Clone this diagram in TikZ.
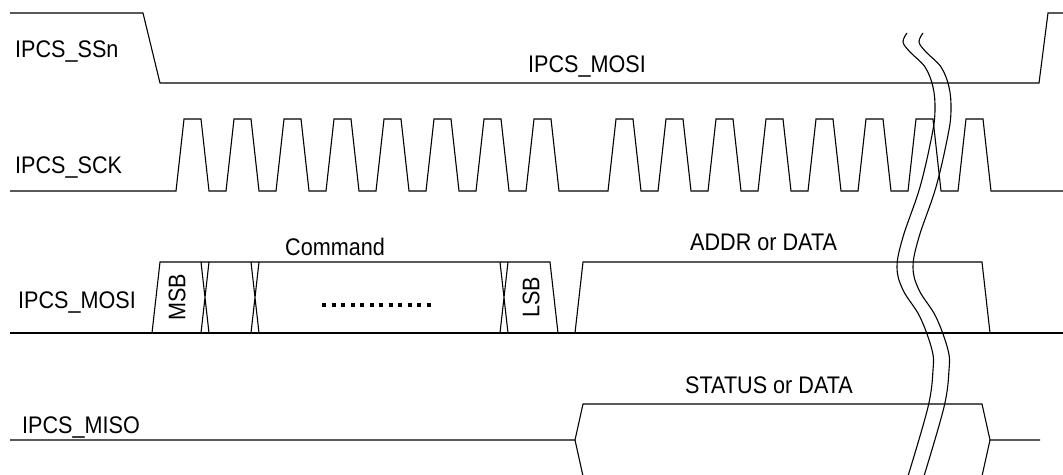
\documentclass[tikz,border=0pt]{standalone}
\usepackage{fontspec}
\setmainfont{Liberation Sans}[FakeStretch=0.9]
\usepackage{tikz}

\begin{document}
\begin{tikzpicture}[x=1pt,y=-1pt,
  wave/.style={line width=1.1pt},
  lbl/.style={font=\fontsize{24}{28}\selectfont, inner sep=0pt, anchor=base west}]
\useasboundingbox (0,0) rectangle (1063,474);

%% signal names
\node[lbl] (ssn) at (15,57) {IPCS\_SSn};
\node[lbl] (sck) at (15,173) {IPCS\_SCK};
\node[lbl] (mosi) at (18,308) {IPCS\_MOSI};
\node[lbl] (miso) at (22,433) {IPCS\_MISO};

%% field labels
\node[lbl] (ssnmosi) at (528,72) {IPCS\_MOSI};
\node[lbl] (cmd) at (285,255) {Command};
\node[lbl] (addr) at (690,250) {ADDR or DATA};
\node[lbl] (stat) at (685,393) {STATUS or DATA};
\node[lbl, rotate=90, anchor=center] (msb) at (177,297) {MSB};
\node[lbl, rotate=90, anchor=center] (lsb) at (531,297) {LSB};

%% select
\draw[wave] (10,13) -- (143,13) -- (160,83) -- (1039,83) -- (1048,13) -- (1063,13);

%% clock
\draw[wave] (10,191)
  foreach \x in {176,226,...,526} {-- (\x,191) -- (\x+8,119) -- (\x+25,119) -- (\x+33,191)}
  foreach \x in {608,658,...,958} {-- (\x,191) -- (\x+8,119) -- (\x+25,119) -- (\x+33,191)}
  -- (1063,191);

%% mosi
\draw[wave] (10,333) -- (1063,333);
\draw[wave] (152,333) -- (160,262) -- (550,262) -- (558,333);
\foreach \x in {201,251,500}
  \draw[wave] (\x,262) -- (\x+8,333) (\x,333) -- (\x+8,262);
\draw[wave] (575,333) -- (583,262) -- (982,262) -- (990,333);
\draw[line width=4pt, dash pattern=on 4pt off 5.5pt] (322,305) -- (431,305);

%% miso
\draw[wave] (10,440) -- (575,440) -- (583,404) -- (982,404) -- (990,440) -- (1040,440);
\draw[wave] (575,440) -- (583,476);
\draw[wave] (990,440) -- (982,476);

%% break
\foreach \dx in {0,16}
  \draw[wave, xshift=\dx] plot[smooth, tension=0.6] coordinates {(907,33) (903,42) (910,52)
    (925,67) (933,87) (935,110) (932,135) (920,187) (903,237) (897,267) (903,290)
    (920,317) (932,350) (933,370) (928,407) (908,476)};

\end{tikzpicture}
\end{document}
